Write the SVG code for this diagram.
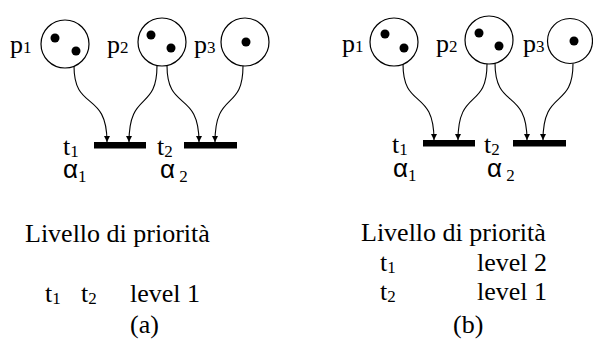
<svg xmlns="http://www.w3.org/2000/svg" width="593" height="350" viewBox="0 0 593 350">
<defs>
<marker id="arr" viewBox="0 0 10 10" refX="10" refY="5" markerWidth="8" markerHeight="6" markerUnits="userSpaceOnUse" orient="auto">
<path d="M0,0 L10,5 L0,10 z" fill="#000"/>
</marker>
<style>
.place{fill:#fff;stroke:#000;stroke-width:1.2}
.tok{fill:#000}
.bar{fill:#000}
.arc{fill:none;stroke:#000;stroke-width:1.1;marker-end:url(#arr)}
</style>
</defs>
<rect width="593" height="350" fill="#fff"/>

<g id="a-p1">
<circle class="place" cx="65" cy="44" r="24"/>
<circle class="tok" cx="55" cy="38" r="4.5"/>
<circle class="tok" cx="76" cy="51" r="4.5"/>
<text font-family="Liberation Serif" font-size="26" x="10" y="53">p<tspan font-size="17">1</tspan></text>
</g>
<g id="a-p2">
<circle class="place" cx="162" cy="42" r="24"/>
<circle class="tok" cx="151" cy="35" r="4.5"/>
<circle class="tok" cx="171" cy="48" r="4.5"/>
<text font-family="Liberation Serif" font-size="26" x="107" y="53">p<tspan font-size="17">2</tspan></text>
</g>
<g id="a-p3">
<circle class="place" cx="245" cy="42" r="24"/>
<circle class="tok" cx="246" cy="42" r="4.5"/>
<text font-family="Liberation Serif" font-size="26" x="194" y="53">p<tspan font-size="17">3</tspan></text>
</g>
<g id="a-t1">
<rect class="bar" x="94" y="142" width="52" height="6.5"/>
<text font-family="Liberation Serif" font-size="26" x="63" y="155">t<tspan font-size="17" dy="2">1</tspan></text>
<text font-family="Liberation Sans" font-size="26" x="63" y="178">&#945;<tspan font-family="Liberation Serif" font-size="17" dy="4">1</tspan></text>
</g>
<g id="a-t2">
<rect class="bar" x="184" y="142" width="53" height="6.5"/>
<text font-family="Liberation Serif" font-size="26" x="157" y="155">t<tspan font-size="17" dy="2">2</tspan></text>
<text font-family="Liberation Sans" font-size="26" x="160" y="178">&#945;<tspan font-family="Liberation Serif" font-size="17" dy="4"> 2</tspan></text>
</g>

<g id="b-p1">
<circle class="place" cx="394" cy="42" r="24"/>
<circle class="tok" cx="385" cy="34" r="4.5"/>
<circle class="tok" cx="404" cy="48" r="4.5"/>
<text font-family="Liberation Serif" font-size="26" x="342" y="52">p<tspan font-size="17">1</tspan></text>
</g>
<g id="b-p2">
<circle class="place" cx="489" cy="40" r="24"/>
<circle class="tok" cx="479" cy="33" r="4.5"/>
<circle class="tok" cx="499" cy="46" r="4.5"/>
<text font-family="Liberation Serif" font-size="26" x="436" y="52">p<tspan font-size="17">2</tspan></text>
</g>
<g id="b-p3">
<circle class="place" cx="570" cy="41" r="22.5"/>
<circle class="tok" cx="574" cy="41" r="4.5"/>
<text font-family="Liberation Serif" font-size="26" x="523" y="52">p<tspan font-size="17">3</tspan></text>
</g>
<g id="b-t1">
<rect class="bar" x="423" y="140" width="52" height="6.5"/>
<text font-family="Liberation Serif" font-size="26" x="392" y="153">t<tspan font-size="17" dy="2">1</tspan></text>
<text font-family="Liberation Sans" font-size="26" x="393" y="177">&#945;<tspan font-family="Liberation Serif" font-size="17" dy="4">1</tspan></text>
</g>
<g id="b-t2">
<rect class="bar" x="513" y="140" width="53" height="6.5"/>
<text font-family="Liberation Serif" font-size="26" x="484" y="153">t<tspan font-size="17" dy="2">2</tspan></text>
<text font-family="Liberation Sans" font-size="26" x="487" y="177">&#945;<tspan font-family="Liberation Serif" font-size="17" dy="4"> 2</tspan></text>
</g>

<g id="connectors">
<path class="arc" d="M74,66 C74,112 107,90 107,142"/>
<path class="arc" d="M157,65.5 C157,112 129,90 129,142"/>
<path class="arc" d="M167,65.5 C167,112 199,90 199,142"/>
<path class="arc" d="M243,66 C243,112 215,90 215,142"/>
<path class="arc" d="M403,64 C403,110 434,88 434,140"/>
<path class="arc" d="M487,64 C487,110 458,88 458,140"/>
<path class="arc" d="M495,63 C495,110 527,88 527,140"/>
<path class="arc" d="M573,63.5 C573,110 543,88 543,140"/>
</g>

<g id="a-table">
<text font-family="Liberation Serif" font-size="26" x="25" y="242">Livello di priorit&#224;</text>
<text font-family="Liberation Serif" font-size="26" x="45" y="302">t<tspan font-size="17" dy="2">1</tspan></text>
<text font-family="Liberation Serif" font-size="26" x="81" y="302">t<tspan font-size="17" dy="2">2</tspan></text>
<text font-family="Liberation Serif" font-size="26" x="130" y="302">level 1</text>
<text font-family="Liberation Serif" font-size="26" x="130" y="333">(a)</text>
</g>
<g id="b-table">
<text font-family="Liberation Serif" font-size="26" x="361" y="241">Livello di priorit&#224;</text>
<text font-family="Liberation Serif" font-size="26" x="380" y="271">t<tspan font-size="17" dy="2">1</tspan></text>
<text font-family="Liberation Serif" font-size="26" x="477" y="271">level 2</text>
<text font-family="Liberation Serif" font-size="26" x="380" y="300">t<tspan font-size="17" dy="2">2</tspan></text>
<text font-family="Liberation Serif" font-size="26" x="477" y="300">level 1</text>
<text font-family="Liberation Serif" font-size="26" x="453" y="333">(b)</text>
</g>
</svg>
